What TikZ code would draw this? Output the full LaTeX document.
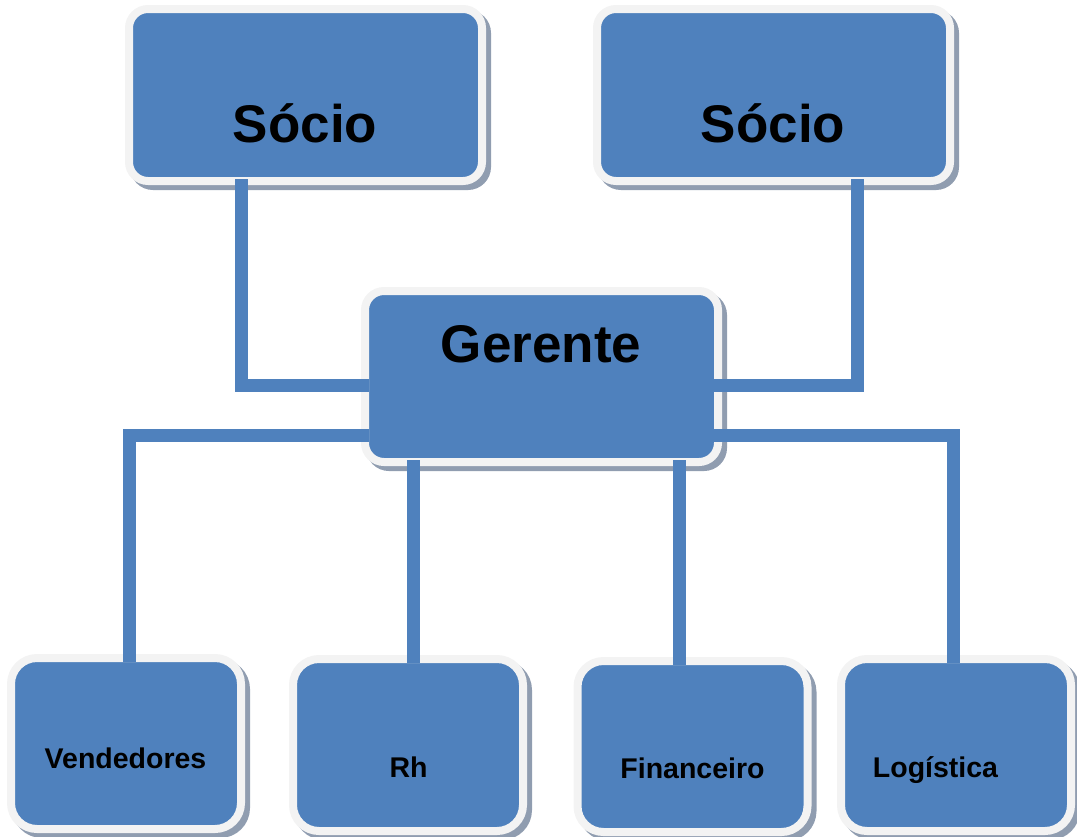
\documentclass[tikz,border=0pt]{standalone}
\usepackage{fontspec}
\setmainfont{Liberation Sans}
\usetikzlibrary{shadows,calc}
\definecolor{boxblue}{HTML}{4F81BD}
\definecolor{boxrim}{HTML}{F3F3F3}
\definecolor{boxshade}{HTML}{909DB0}
\tikzset{
  orgbox/.style={rectangle, inner sep=0pt, outer sep=0pt, fill=boxblue, draw=boxrim, line width=8pt,
    general shadow={shadow xshift=5pt, shadow yshift=-5pt, fill=boxshade, draw=boxshade}},
  topbox/.style={orgbox, rounded corners=19pt, minimum width=353pt, minimum height=172pt},
  lowbox/.style={orgbox, rounded corners=26pt, minimum width=230pt, minimum height=172pt},
  bigtext/.style={anchor=base, inner sep=0pt, font=\fontsize{53}{60}\selectfont\bfseries},
  smalltext/.style={anchor=base, inner sep=0pt, font=\fontsize{28.5}{32}\selectfont\bfseries},
  conn/.style={draw=boxblue, line width=13pt}
}
\begin{document}
\begin{tikzpicture}[x=1pt, y=-1pt]
\useasboundingbox (0,0) rectangle (1077,836);
% boxes
\node[topbox] (s1) at (305.5,95) {};
\node[topbox] (s2) at (773.5,95) {};
\node[topbox, minimum height=171pt] (g) at (541.5,376.5) {};
\node[lowbox, minimum height=171pt] (v) at (126,743.5) {};
\node[lowbox] (r) at (408,745) {};
\node[lowbox, minimum height=171pt] (f) at (692.5,746.5) {};
\node[lowbox] (l) at (956,745) {};
% connectors
\draw[conn] ($(s1.south)+(-64.5,-2)$) |- ($(g.west)+(4,8.5)$);
\draw[conn] ($(s2.south)+(83.5,-2)$) |- ($(g.east)+(-4,8.5)$);
\draw[conn] ($(g.west)+(4,58.5)$) -| ($(v.north)+(3,4)$);
\draw[conn] ($(g.east)+(-4,58.5)$) -| ($(l.north)+(-3,4)$);
\draw[conn] ($(r.north |- g.south)+(5,-2)$) -- ($(r.north)+(5,4)$);
\draw[conn] ($(f.north |- g.south)+(-13.5,-2)$) -- ($(f.north)+(-13.5,4)$);
% texts
\node[bigtext] (ts1) at (305,142) {Sócio};
\node[bigtext] (ts2) at (773,142) {Sócio};
\node[bigtext] (tg) at (541,362) {Gerente};
\node[smalltext] (tv) at (125.5,768) {Vendedores};
\node[smalltext] (tr) at (408.5,777) {Rh};
\node[smalltext] (tf) at (692.5,778) {Financeiro};
\node[smalltext] (tl) at (935.5,777) {Logística};
\end{tikzpicture}
\end{document}
